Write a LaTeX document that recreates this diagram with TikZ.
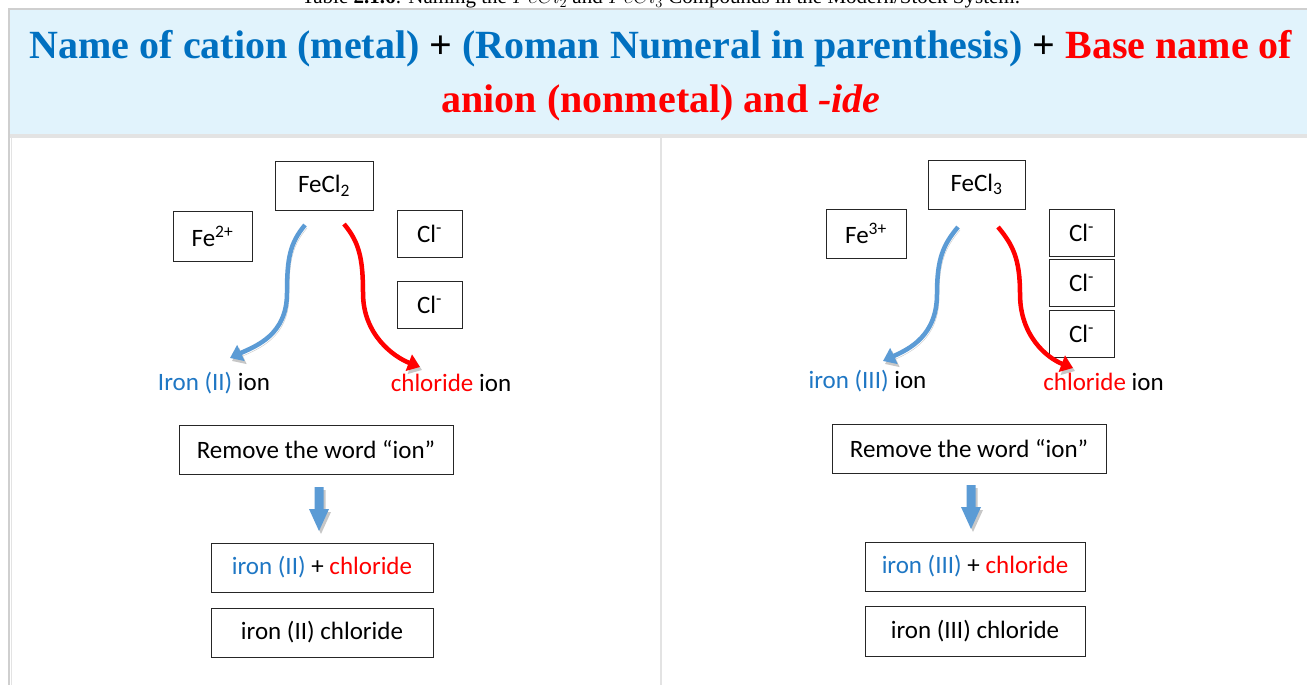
\documentclass[tikz,border=0pt]{standalone}
\usepackage{fontspec}
\setmainfont{Carlito}
\newfontfamily\seriffont{Liberation Serif}
\usetikzlibrary{arrows.meta}
\definecolor{hdrblue}{HTML}{E1F3FC}
\definecolor{ttlblue}{HTML}{0070C0}
\definecolor{txtblue}{HTML}{1F77C4}
\definecolor{arrblue}{HTML}{5B9BD5}
\definecolor{ared}{HTML}{FF0000}
\definecolor{gline}{HTML}{CFCFCF}
\definecolor{gline2}{HTML}{E3E3E3}
\tikzset{
  bx/.style={draw=black!85, line width=0.9pt, inner sep=0pt, fill=white, font=\fontsize{25}{29}\selectfont},
  lbl/.style={inner sep=0pt, font=\fontsize{25}{29}\selectfont},
  ttl/.style={inner sep=0pt, anchor=base, font=\seriffont\bfseries\fontsize{40}{48}\selectfont},
  shd/.style={preaction={draw=black!22, transform canvas={shift={(2,3)}}}},
  carrow/.style={line width=4.5pt, -{Triangle[length=12pt,width=17pt]}, shd},
  blockshd/.style={preaction={fill=black!22, transform canvas={shift={(2,3)}}}}
}
\begin{document}
\begin{tikzpicture}[x=1pt,y=-1pt]
\useasboundingbox (0,0) rectangle (1307,685);
\clip (0,0) rectangle (1307,685);
% table frame
\fill[white] (0,0) rectangle (1307,685);
\fill[hdrblue] (10,10) rectangle (1307,134);
\fill[gline2] (10,134) rectangle (1307,137.5);
\draw[gline, line width=2pt] (9,685) -- (9,9) -- (1307,9);
\draw[gline2, line width=1.5pt] (11.5,137) -- (11.5,685);
\draw[gline2, line width=2pt] (661,137) -- (661,685);
% caption (cut off at top, as in the reference)
\node[inner sep=0pt, anchor=base, font=\seriffont\fontsize{21}{24}\selectfont] (cap) at (661,4) {Table \textbf{2.1.6}: Naming the $FeCl_2$ and $FeCl_3$ Compounds in the Modern/Stock System.};
% title
\node[ttl] (t1) at (661,59) {\textcolor{ttlblue}{Name of cation (metal)} + \textcolor{ttlblue}{(Roman Numeral in parenthesis)} + \textcolor{ared}{Base name of}};
\node[ttl] (t2) at (661,113) {\textcolor{ared}{anion (nonmetal) and \textit{-ide}}};

% ---------- left panel ----------
\node[bx, minimum width=98pt, minimum height=49pt] (fecl2) at (324,185.5) {FeCl\textsubscript{2}};
\node[bx, minimum width=79pt, minimum height=50pt] (fe2) at (212.5,236) {Fe\textsuperscript{2+}};
\node[bx, minimum width=65pt, minimum height=47pt] (lcla) at (429.5,233.5) {Cl\textsuperscript{-}};
\node[bx, minimum width=65pt, minimum height=47pt] (lclb) at (429.5,304.5) {Cl\textsuperscript{-}};
\coordinate (lb1) at (305,225); \coordinate (lb2) at (287,293); \coordinate (lb3) at (230,358);
\coordinate (lr1) at (344,224); \coordinate (lr2) at (363,293); \coordinate (lr3) at (420,367);
\draw[carrow, arrblue] (lb1) .. controls +(-15,18) and +(0,-35) .. (lb2) .. controls +(0,42) and +(26,-12) .. (lb3);
\draw[carrow, ared] (lr1) .. controls +(15,18) and +(0,-35) .. (lr2) .. controls +(0,42) and +(-26,-10) .. (lr3);
\node[lbl] (lion) at (214,383) {\textcolor{txtblue}{Iron (II)} ion};
\node[lbl] (lchl) at (451,383) {\textcolor{ared}{chloride} ion};
\node[bx, minimum width=274pt, minimum height=49pt] (lrem) at (316,449.5) {Remove the word “ion”};
\fill[arrblue, blockshd] (314.5,487) -- (323.5,487) -- (323.5,509) -- (329,509) -- (319,531) -- (309,509) -- (314.5,509) -- cycle;
\node[bx, minimum width=222pt, minimum height=49pt] (lsum) at (322,567.5) {\textcolor{txtblue}{iron (II)} + \textcolor{ared}{chloride}};
\node[bx, minimum width=222pt, minimum height=49pt] (lname) at (322,632.5) {iron (II) chloride};

% ---------- right panel ----------
\node[bx, minimum width=97pt, minimum height=49pt] (fecl3) at (976.5,184.5) {FeCl\textsubscript{3}};
\node[bx, minimum width=80pt, minimum height=49pt] (fe3) at (866,233.5) {Fe\textsuperscript{3+}};
\node[bx, minimum width=65pt, minimum height=47pt] (rcla) at (1081.5,232.5) {Cl\textsuperscript{-}};
\node[bx, minimum width=65pt, minimum height=47pt] (rclb) at (1081.5,283) {Cl\textsuperscript{-}};
\node[bx, minimum width=65pt, minimum height=47pt] (rclc) at (1081.5,333.5) {Cl\textsuperscript{-}};
\coordinate (rb1) at (958,227); \coordinate (rb2) at (937,294); \coordinate (rb3) at (883,361);
\coordinate (rr1) at (998,227); \coordinate (rr2) at (1020,294); \coordinate (rr3) at (1073,368);
\draw[carrow, arrblue] (rb1) .. controls +(-15,18) and +(0,-35) .. (rb2) .. controls +(0,42) and +(26,-12) .. (rb3);
\draw[carrow, ared] (rr1) .. controls +(15,18) and +(0,-35) .. (rr2) .. controls +(0,42) and +(-26,-10) .. (rr3);
\node[lbl] (rion) at (867.5,381) {\textcolor{txtblue}{iron (III)} ion};
\node[lbl] (rchl) at (1103.5,382) {\textcolor{ared}{chloride} ion};
\node[bx, minimum width=274pt, minimum height=49pt] (rrem) at (969,448.5) {Remove the word “ion”};
\fill[arrblue, blockshd] (966.5,485) -- (975.5,485) -- (975.5,507) -- (981,507) -- (971,529) -- (961,507) -- (966.5,507) -- cycle;
\node[bx, minimum width=220pt, minimum height=49pt] (rsum) at (975,566.5) {\textcolor{txtblue}{iron (III)} + \textcolor{ared}{chloride}};
\node[bx, minimum width=220pt, minimum height=50pt] (rname) at (975,631) {iron (III) chloride};
\end{tikzpicture}
\end{document}
